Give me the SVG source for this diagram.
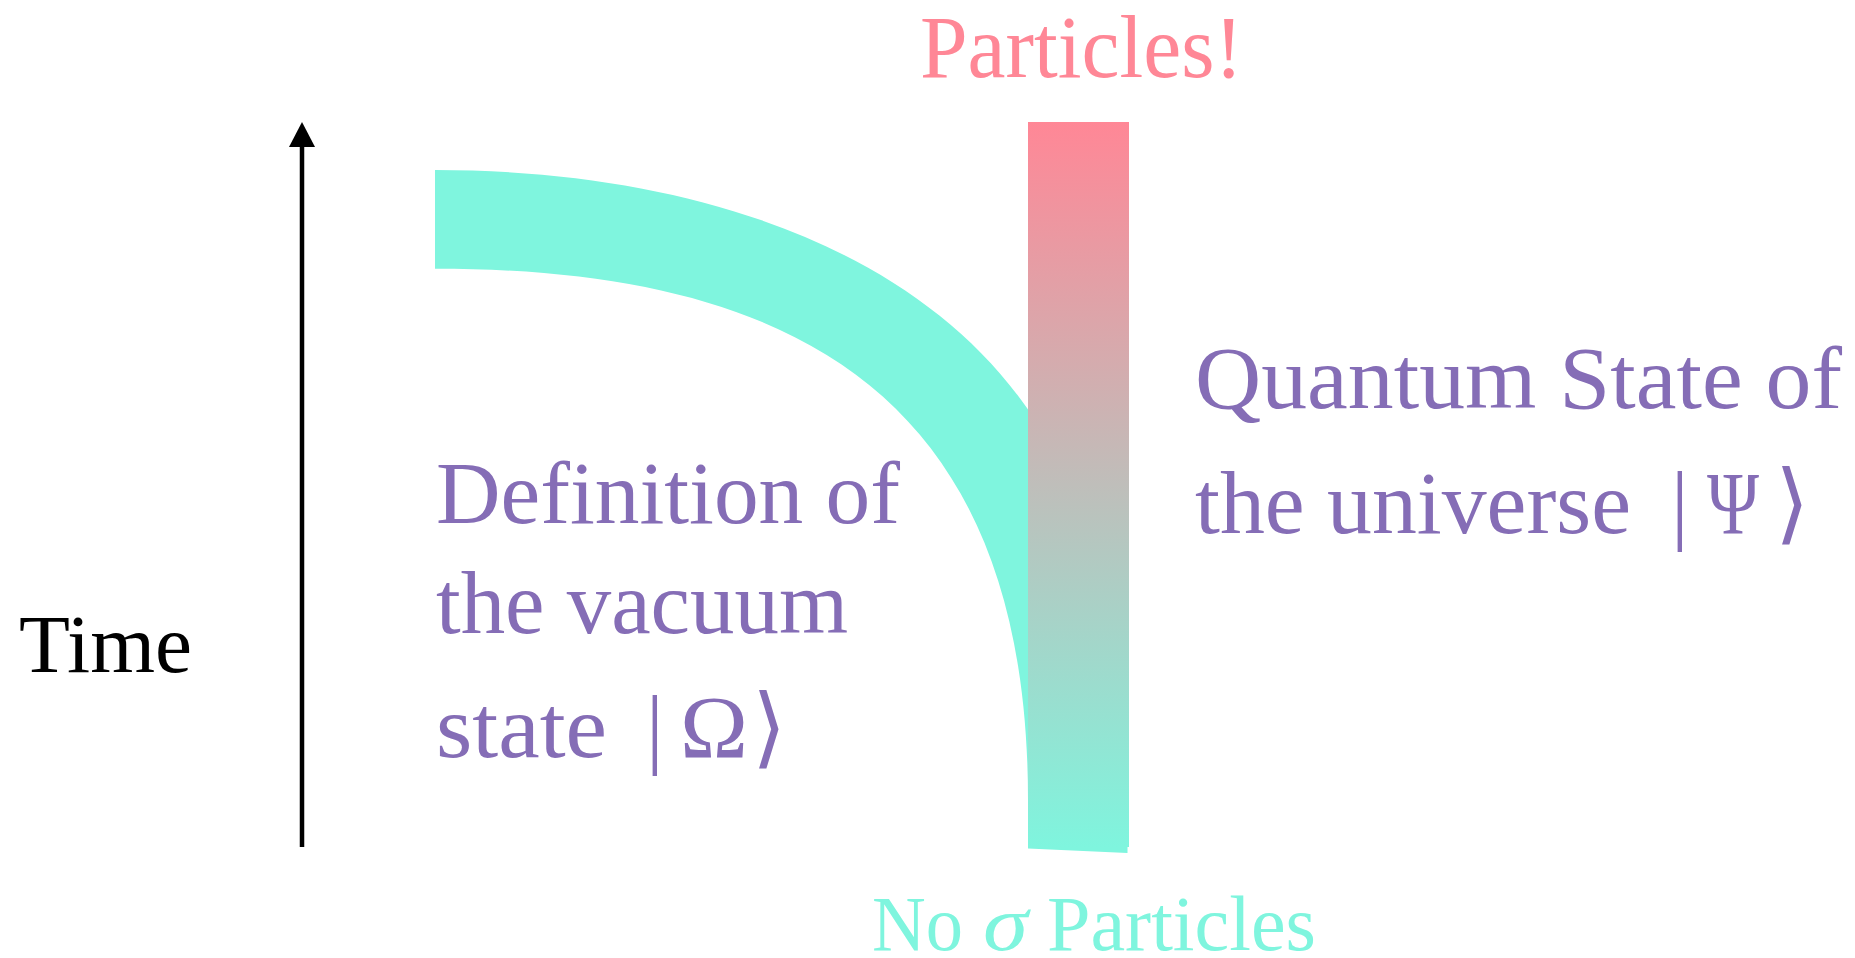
<svg xmlns="http://www.w3.org/2000/svg" width="1855" height="958" viewBox="0 0 1855 958">
  <defs>
    <linearGradient id="barGrad" x1="0" y1="0" x2="0" y2="1">
      <stop offset="0" stop-color="#FF8796"/>
      <stop offset="0.5" stop-color="#BFBEBA"/>
      <stop offset="1" stop-color="#7FF5DE"/>
    </linearGradient>
    <marker id="arrowHead" viewBox="0 0 25 26" refX="0" refY="13" markerWidth="25" markerHeight="26" markerUnits="userSpaceOnUse" orient="auto">
      <polygon points="25,13 0,0 0,26" fill="#000"/>
    </marker>
    <style>
      .serif { font-family: "Liberation Serif", "DejaVu Serif", serif; }
      .purple { fill: #856DB6; font-size: 88px; }
      .pink { fill: #FF8796; }
      .teal { fill: #7FF5DE; }
      .math { font-family: "DejaVu Serif", "DejaVu Sans", "Liberation Serif", serif; }
    </style>
  </defs>
  <rect width="1855" height="958" fill="#FFFFFF"/>

  <g id="connectors">
    <line x1="302" y1="847" x2="302" y2="147" stroke="#000" stroke-width="4.5" marker-end="url(#arrowHead)"/>
  </g>

  <g id="time-label">
    <text x="19" y="672" class="serif" font-size="82" fill="#000" textLength="173" lengthAdjust="spacingAndGlyphs">Time</text>
  </g>

  <g id="vacuum-band">
    <path class="teal" d="M435,170 C685,170 912.2,244.2 1027,408 L1128,560 L1127.5,853 L1028,848.5 L1028,800 C1028,400 800,268.7 435,268.7 Z"/>
  </g>

  <g id="universe-bar">
    <rect x="1028" y="122" width="101" height="725" fill="url(#barGrad)"/>
  </g>

  <g id="particles-label">
    <text x="920" y="77" class="serif pink" font-size="89" textLength="323" lengthAdjust="spacingAndGlyphs">Particles!</text>
  </g>

  <g id="no-particles-label">
    <text x="872" y="950" class="serif teal" font-size="78" textLength="91" lengthAdjust="spacingAndGlyphs">No</text>
    <text x="983" y="950" class="serif teal" font-size="78" font-style="italic" textLength="45" lengthAdjust="spacingAndGlyphs">σ</text>
    <text x="1047" y="950" class="serif teal" font-size="78" textLength="269" lengthAdjust="spacingAndGlyphs">Particles</text>
  </g>

  <g id="vacuum-label">
    <text x="436" y="523" class="serif purple" textLength="464" lengthAdjust="spacingAndGlyphs">Definition of</text>
    <text x="436" y="633" class="serif purple" textLength="412" lengthAdjust="spacingAndGlyphs">the vacuum</text>
    <text x="436" y="757" class="serif purple" textLength="171" lengthAdjust="spacingAndGlyphs">state</text>
    <text x="646" y="757" class="serif purple">|</text>
    <text x="680" y="757" class="serif purple" textLength="68" lengthAdjust="spacingAndGlyphs">Ω</text>
    <text x="752" y="757" class="math purple" font-size="84">⟩</text>
  </g>

  <g id="universe-label">
    <text x="1195" y="408" class="serif purple" textLength="647" lengthAdjust="spacingAndGlyphs">Quantum State of</text>
    <text x="1195" y="533" class="serif purple" textLength="436" lengthAdjust="spacingAndGlyphs">the universe</text>
    <text x="1671" y="533" class="serif purple">|</text>
    <text x="1707" y="533" class="serif purple" textLength="52" lengthAdjust="spacingAndGlyphs">Ψ</text>
    <text x="1775" y="533" class="math purple" font-size="84">⟩</text>
  </g>
</svg>
